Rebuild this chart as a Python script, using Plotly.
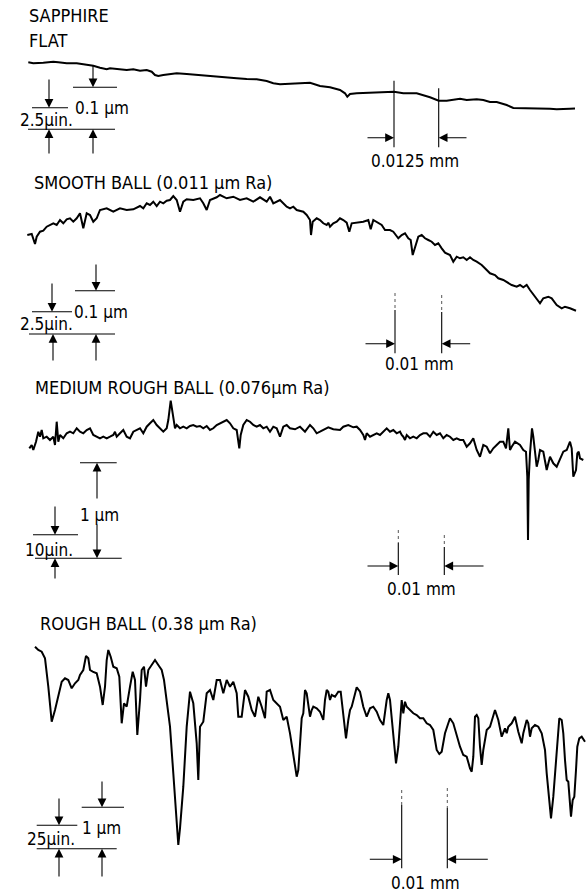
import plotly.graph_objects as go

flat_x = [28.3, 33.3, 43.3, 53.3, 58.3, 66.7, 76.7, 86.7, 93.3, 100, 106.7, 110, 116.7, 126.7, 133.3, 140, 146.7,
          151.7, 155, 158.3, 163.3, 170, 176.7, 186.7, 196.7, 206.7, 216.7, 226.7, 236.7, 246.7, 256.7, 266.7,
          273.3, 280, 290, 300, 310, 320, 330, 340, 345, 347.3, 350, 356.7, 373.3, 386.7, 394, 403.3, 416.7,
          430, 438.7, 446.7, 453.3, 460, 466.7, 476.7, 483.3, 490, 496.7, 506.7, 513.3, 523.3, 536.7, 550,
          556.7, 563.3, 570, 575]
flat_y = [62.3, 63.3, 62.7, 61.7, 62.3, 63.3, 63.3, 64.3, 65.7, 67.7, 69.3, 68.3, 69, 70, 69.3, 70.7, 70,
          71.7, 75, 76, 75, 74, 73.3, 74, 75, 76, 76.7, 77.3, 78.3, 79, 79.3, 81,
          83.3, 84.3, 84, 83.3, 82.7, 86, 87.3, 90, 93.3, 96.7, 94, 93.3, 92.7, 92.7, 91.7, 93.3, 93.3,
          97.3, 100.7, 100.7, 100, 98.7, 100, 99.3, 100, 102, 102, 105, 108, 108, 108.3, 108.7,
          109.3, 108.7, 108.7, 108.5]

smooth_x = [27.3, 31.7, 35, 36.7, 40, 43.3, 46.7, 50, 53.3, 56.7, 60, 63.3, 66.7, 70, 73.3, 76.7, 80, 83.3, 86.7,
            90, 93.3, 96.7, 100, 106.7, 113.3, 120, 126.7, 133.3, 140, 143.3, 146.7, 150, 153.3, 156.7, 160,
            163.3, 166.7, 170, 173.3, 176.7, 180, 183.3, 186.7, 193.3, 200, 203.3, 206.7, 210, 216.7, 220,
            226.7, 233.3, 240, 246.7, 253.3, 260, 266.7, 270, 273.3, 280, 286.7, 290, 293.3, 296.7, 300,
            303.3, 306.7, 310, 311, 312.7, 316.7, 320, 323.3, 326.7, 328.3, 330, 333.3, 336.7, 340, 343.3,
            346.7, 349.3, 351.7, 356.7, 363.3, 368.3, 370.7, 373.3, 376.7, 381.7, 385, 390, 393.3, 398.3,
            401.7, 405, 408.3, 410.7, 412.7, 415, 418.3, 421.7, 425, 428.3, 431.7, 435, 438.3, 441.7, 445,
            450, 453.3, 456.7, 460, 463.3, 466.7, 470, 473.3, 476.7, 481.7, 486.7, 490, 495, 498.3, 503.3,
            508.3, 511.7, 516.7, 520, 523.3, 526.7, 530, 535, 540, 543.3, 548.3, 551.7, 556.7, 561.7, 565,
            570, 576]
smooth_y = [235, 234, 244, 236.7, 231.7, 230.7, 226.7, 225, 223.3, 225, 220, 223.3, 219.3, 218.3, 221.7, 218.3,
            213.3, 228.3, 213.3, 215, 221.7, 218.3, 210, 208.3, 211.7, 208.3, 210, 209.3, 206, 208.3, 203.3,
            205, 201.7, 206, 201.7, 203.3, 200.7, 200, 196, 200, 211.7, 201.7, 199.3, 200, 198.3, 203.3, 210,
            200, 197.3, 195, 198.3, 196.7, 200, 198.3, 201.7, 197.3, 201.7, 196.7, 203.3, 200, 206.7, 208.3,
            206.7, 210, 210.7, 211.7, 215, 220, 235, 221.7, 218.3, 220, 223.3, 225, 222.7, 226.7, 223.3,
            221.7, 218.3, 220, 222.7, 231.7, 223.3, 222.7, 221.7, 220, 229.3, 220, 221.7, 225, 230, 230,
            231.7, 238.3, 235, 233.3, 238.3, 240, 255, 246.7, 236.7, 235, 238.3, 240, 241.7, 245, 243.3,
            248.3, 252.7, 255, 261.7, 256.7, 258.3, 257.3, 260, 257.3, 260, 261.7, 265, 270, 273.3, 275,
            278.3, 280, 283.3, 285, 286.7, 285, 287.3, 285, 290, 296.7, 303.3, 298.3, 296.7, 298.3, 305,
            308.3, 306.7, 308.3, 310.7]

medium_x = [29.3, 31.7, 33.3, 36, 38.3, 40, 41.7, 43.3, 46.7, 50, 53.3, 55, 56.7, 58.3, 60, 63.3, 66.7, 70,
            73.3, 76.7, 80, 83.3, 86.7, 90, 93.3, 96.7, 100, 103.3, 106.7, 110, 113.3, 115, 116.7, 120, 123.3,
            126.7, 130, 133.3, 136.7, 140, 143.3, 146.7, 150, 153.3, 156.7, 160, 163.3, 166.7, 168.3, 170.7,
            172.7, 175, 176.7, 180, 183.3, 186.7, 190, 193.3, 196.7, 200, 203.3, 206.7, 210, 213.3, 216.7,
            220, 223.3, 226.7, 230, 233.3, 236.7, 239.3, 240.7, 243.3, 246.7, 250, 253.3, 256.7, 260, 263.3,
            266.7, 270, 273.3, 276.7, 280, 283.3, 286.7, 290, 295, 300, 305, 310, 313.3, 316.7, 320, 323.3,
            328.3, 333.3, 340, 343.3, 348.3, 353.3, 356.7, 360, 363.3, 365, 366.7, 370, 373.3, 376.7, 380,
            383.3, 386.7, 390, 393.3, 396.7, 400, 401.7, 403.3, 405, 406.7, 410, 413.3, 416.7, 420, 423.3,
            426.7, 430, 433.3, 436.7, 440, 443.3, 446.7, 450, 453.3, 456.7, 460, 463.3, 466.7, 470, 473.3,
            476.7, 480, 483.3, 486.7, 490, 493.3, 496.7, 500, 503.3, 506, 508.3, 510, 511.7, 515, 520, 523.3,
            526, 527.3, 528, 528.7, 530, 532, 533.3, 535, 536.7, 538.3, 540, 543.3, 546.7, 550, 553.3, 556.7,
            560, 563.3, 566.7, 570, 571.7, 573.3, 576, 577.3, 578.7, 580, 583.3]
medium_y = [448.3, 445, 450, 441.7, 431.7, 436.7, 430, 438.3, 436.7, 440, 436.7, 445, 421.7, 441.7, 435, 438.3,
            433.3, 431.7, 433.3, 428.3, 431.7, 433.3, 430, 428.3, 435, 436.7, 438.3, 436.7, 438.3, 436.7, 435,
            431.7, 436.7, 433.3, 430, 436.7, 438.3, 431.7, 430, 428.3, 433.3, 426.7, 423.3, 420, 425, 428.3,
            431.7, 428.3, 420, 400.7, 413.3, 428.3, 425, 428.3, 426.7, 428.3, 426, 425, 426.7, 426, 428.3,
            426, 430, 428.3, 425, 423.3, 421.7, 420, 423.3, 428.3, 430, 448.3, 435, 425, 420, 421.7, 425,
            426.7, 425, 428.3, 426.7, 431.7, 426.7, 428.3, 436.7, 426.7, 425, 428.3, 429.3, 426.7, 431.7,
            425, 428.3, 433.3, 431.7, 430, 427.3, 429.3, 430, 426.7, 425, 427.3, 426.7, 430, 435, 440, 433.3,
            436.7, 435, 433.3, 435, 431.7, 428.3, 431.7, 430, 433.3, 431.7, 435, 436.7, 440, 435, 438.3,
            436.7, 438.3, 435, 433.3, 433.3, 436.7, 431.7, 435, 433.3, 438.3, 435, 436.7, 440, 438.3, 440,
            440, 446.7, 443.3, 438.3, 450, 456.7, 445, 446.7, 453.3, 448.3, 445, 441.7, 441.7, 448.3, 428.3,
            450, 446.7, 441.7, 445, 450, 451.7, 476.7, 540, 480, 453.3, 428.3, 436.7, 450, 466.7, 460, 450,
            451.7, 470, 456.7, 463.3, 466.7, 460, 451.7, 450, 441.7, 448.3, 476.7, 470, 453.3, 451.7, 458.3,
            460]

rough_x = [35, 38.3, 41.7, 45, 48.3, 51.7, 55, 58.3, 61.7, 65, 68.3, 71.7, 75, 78.3, 80, 83.3, 86, 88.3, 90,
           92.7, 96.7, 100, 102.7, 105, 106.7, 108.3, 110.7, 113.3, 116.7, 119.3, 121.7, 124, 126.7, 130,
           132.7, 135, 137.3, 140, 141.7, 144, 146, 148.3, 151.7, 155, 158.3, 161.7, 164, 166.7, 170, 173.3,
           176.7, 178.3, 180, 183.3, 186.7, 190, 193.3, 196.7, 198.3, 200, 203.3, 206.7, 210, 213.3, 216.7,
           220, 223.3, 226.7, 230, 233.3, 236.7, 238.3, 241.7, 245, 248.3, 251.7, 255, 258.3, 261.7, 265,
           266.7, 270, 273.3, 276.7, 280, 283.3, 286.7, 290, 293.3, 296.7, 298.3, 300, 301.7, 303.3, 305,
           306.7, 308.3, 310, 311.7, 313.3, 316.7, 320, 323.3, 325, 326.7, 328.3, 330, 331.7, 335, 338.3,
           340.7, 343.3, 346, 348.3, 350, 351.7, 355, 356.7, 360, 363.3, 366.7, 370, 373.3, 376.7, 380,
           383.3, 386.7, 388.3, 390, 393.3, 396, 398.3, 401.7, 403.3, 405, 406.7, 410, 413.3, 416.7, 420,
           423.3, 426.7, 430, 433.3, 436.7, 439.3, 441.7, 445, 448.3, 450, 453.3, 456.7, 460, 463.3, 466.7,
           470, 471.7, 473.3, 475, 476.7, 478.3, 480, 481.7, 483.3, 486.7, 490, 493.3, 495, 498.3, 501.7,
           505, 506.7, 508.3, 511.7, 515, 518.3, 521.7, 523.3, 526.7, 528.3, 530, 531.7, 535, 538.3, 541.7,
           545, 546.7, 548.3, 550, 551, 553.3, 556.7, 559.3, 561.7, 563.3, 565, 566.7, 568.3, 569.3, 571,
           572.7, 574.3, 576, 577.3, 579.3, 581.7, 585]
rough_y = [646.7, 650, 651.7, 658.3, 686.7, 721.7, 710, 696.7, 681.7, 678.3, 680, 688.3, 683.3, 680, 675, 670,
           656, 658.3, 670, 671.7, 673.3, 686.7, 705, 686.7, 660, 650, 656.7, 666.7, 668.3, 676.7, 723.3,
           703.3, 706.7, 686.7, 671.7, 680, 735, 700, 670, 666.7, 686.7, 670, 665, 660, 665, 670, 680, 700,
           726.7, 773.3, 830, 845, 828.3, 786.7, 726.7, 691.7, 703.3, 743.3, 780, 726.7, 721.7, 693.3, 690,
           700, 680, 680, 693.3, 680, 686.7, 681.7, 693.3, 716.7, 716.7, 690, 696.7, 710, 716.7, 696.7,
           706.7, 718.3, 691.7, 690, 700, 703.3, 706.7, 720, 716.7, 733.3, 753.3, 776.7, 770, 740, 718.3,
           713.3, 690, 693.3, 706.7, 716.7, 710, 706.7, 708.3, 711.7, 720, 700, 690, 691.7, 700, 695, 696.7,
           691.7, 691.7, 713.3, 738.3, 720, 710, 706.7, 693.3, 687.3, 691.7, 706.7, 716.7, 708.3, 706.7,
           711.7, 720, 725, 700, 693.3, 700, 733.3, 763.3, 746.7, 700, 713.3, 701.7, 706.7, 710, 713.3,
           715, 718.3, 718.3, 723.3, 725, 730, 750, 754, 751.7, 733.3, 723.3, 718.3, 723.3, 735, 746.7,
           755, 756.7, 768.3, 771.7, 756.7, 716.7, 715, 718.3, 746.7, 765, 750, 730, 726.7, 716.7, 710, 720,
           736.7, 728.3, 733.3, 726.7, 723.3, 716.7, 731.7, 743.3, 733.3, 720, 723.3, 736.7, 728.3, 725,
           726.7, 733.3, 750, 773.3, 790, 803.3, 818.3, 796.7, 750, 718.3, 720, 733.3, 760, 780, 781.7,
           796.7, 816.7, 800, 796.7, 770, 746.7, 738.3, 736.7, 741.7]

# ---------------- text ----------------
titles = ["SAPPHIRE", "FLAT", "SMOOTH BALL (0.011 µm Ra)", "MEDIUM ROUGH BALL (0.076µm Ra)",
          "ROUGH BALL (0.38 µm Ra)"]
metric_labels = ["0.1 µm", "0.1 µm", "1 µm", "1 µm"]
inch_labels = ["2.5µin.", "2.5µin.", "10µin.", "25µin."]
length_labels = ["0.0125 mm", "0.01 mm", "0.01 mm", "0.01 mm"]

# ---------------- scale-bar geometry (chart units) ----------------
bar_hlines = [(73, 117, 87.3), (32, 68, 107.7), (28, 115, 129.3),
              (75, 115, 290.7), (32, 72, 311.7), (29, 115, 334),
              (80, 116.7, 462.7), (33, 78, 534.7), (35, 121.7, 558.3),
              (81.7, 124, 807.3), (36.7, 77.3, 825.3), (36.7, 116.7, 848.7)]
bar_vlines = [(394, 80.7, 147.3), (438.7, 88.3, 147.3),
              (395, 310, 353.3), (441.7, 312, 353.3),
              (398.3, 543, 575), (444.3, 547, 575),
              (401.7, 805, 868.3), (447.3, 808, 868.3)]
bar_vdots = [(395, 293, 310), (441.7, 295, 312),
             (398.3, 530, 543), (444.3, 535, 547),
             (401.7, 790, 805), (447.3, 788, 808)]
arrows = [((93, 64), (93, 87.3)), ((49, 78), (49, 107.7)), ((49, 155), (49, 129.3)), ((93, 155), (93, 129.3)),
          ((366, 137.7), (394, 137.7)), ((468, 137.7), (438.7, 137.7)),
          ((96, 263), (96, 290.7)), ((52, 282), (52, 311.7)), ((53, 362), (53, 334)), ((96, 362), (96, 334)),
          ((364, 343.7), (395, 343.7)), ((471.7, 343.7), (441.7, 343.7)),
          ((97, 500), (97, 462.7)), ((97, 523), (97, 558.3)), ((55, 505), (55, 534.7)), ((55, 580), (55, 558.3)),
          ((366, 566), (398.3, 566)), ((485, 566), (444.3, 566)),
          ((102, 780), (102, 807.3)), ((59, 797), (59, 825.3)), ((59, 878), (59, 848.7)), ((102, 878), (102, 848.7)),
          ((368.3, 859.3), (401.7, 859.3)), ((489.3, 859.3), (447.3, 859.3))]

title_pos = [(27, 15.5), (27, 40), (32, 182), (33, 387), (38, 623)]
metric_pos = [(73, 108), (72, 311.7), (78, 515), (80, 828)]
inch_pos = [(75, 120), (75, 324), (75, 550), (77, 839)]
length_pos = [(415, 161), (419, 364), (421, 589), (425, 883)]

FONT = "DejaVu Sans Condensed, Liberation Sans Narrow, Arial Narrow, Liberation Sans, sans-serif"

fig = go.Figure()
for xs, ys in [(flat_x, flat_y), (smooth_x, smooth_y), (medium_x, medium_y), (rough_x, rough_y)]:
    fig.add_trace(go.Scatter(x=xs, y=ys, mode="lines", line=dict(color="black", width=2),
                             hoverinfo="skip", showlegend=False))

hx, hy = [], []
for x0, x1, y in bar_hlines:
    hx += [x0, x1, None]
    hy += [y, y, None]
for x, y0, y1 in bar_vlines:
    hx += [x, x, None]
    hy += [y0, y1, None]
fig.add_trace(go.Scatter(x=hx, y=hy, mode="lines", line=dict(color="black", width=1.1),
                         hoverinfo="skip", showlegend=False))
dx, dy = [], []
for x, y0, y1 in bar_vdots:
    dx += [x, x, None]
    dy += [y0, y1, None]
fig.add_trace(go.Scatter(x=dx, y=dy, mode="lines", line=dict(color="#555", width=1, dash="3px,3px"),
                         hoverinfo="skip", showlegend=False))

for (sx, sy), (ex, ey) in arrows:
    fig.add_annotation(x=ex, y=ey, ax=sx, ay=sy, xref="x", yref="y", axref="x", ayref="y",
                       text="", showarrow=True, arrowhead=2, arrowsize=1.6, arrowwidth=1.1,
                       arrowcolor="black", standoff=0, startstandoff=0)

def add_text(txt, pos, anchor, size):
    fig.add_annotation(x=pos[0], y=pos[1], xref="x", yref="y", text=txt, showarrow=False,
                       xanchor=anchor, yanchor="middle", font=dict(family=FONT, size=size, color="black"))

for t, p in zip(titles, title_pos):
    add_text(t, p, "left", 18)
for t, p in zip(metric_labels, metric_pos):
    add_text(t, p, "left", 17)
for t, p in zip(inch_labels, inch_pos):
    add_text(t, p, "right", 17)
for t, p in zip(length_labels, length_pos):
    add_text(t, p, "center", 17)

fig.update_layout(width=586, height=896, margin=dict(l=0, r=0, t=0, b=0),
                  paper_bgcolor="white", plot_bgcolor="white")
fig.update_xaxes(range=[0, 586], visible=False, fixedrange=True)
fig.update_yaxes(range=[896, 0], visible=False, fixedrange=True)

fig.write_html("out.html", config={"displayModeBar": False},
               post_script="document.body.style.margin='0';document.body.style.overflow='hidden';")
